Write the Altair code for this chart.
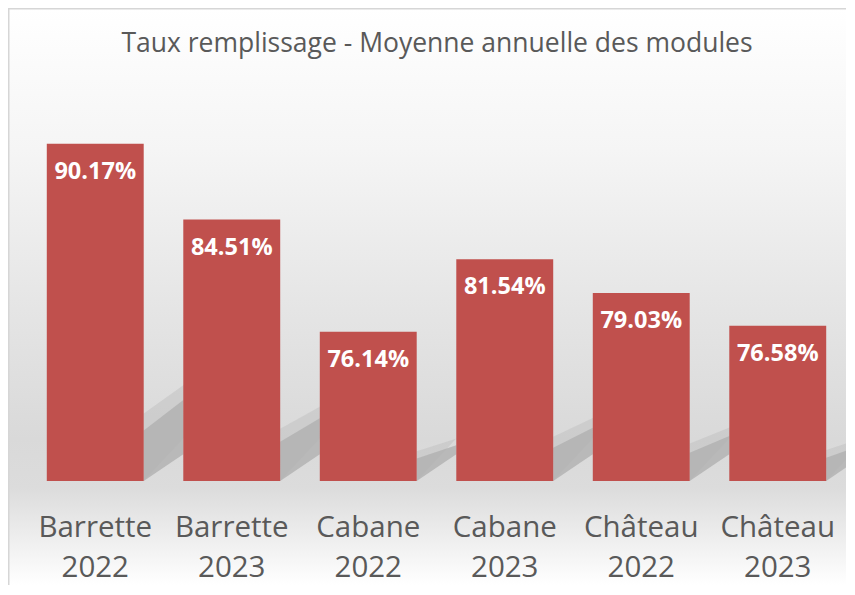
import altair as alt
import pandas as pd

# ---- data ----
categories = ["Barrette 2022", "Barrette 2023", "Cabane 2022",
              "Cabane 2023", "Château 2022", "Château 2023"]
values = [90.17, 84.51, 76.14, 81.54, 79.03, 76.58]
title_text = "Taux remplissage - Moyenne annuelle des modules"

Y_MIN, Y_MAX = 65, 95
W, H = 819, 402
PAD = {"left": 19, "top": 71, "right": 0, "bottom": 104}
FONT = "Open Sans"
BAR = "#C0504D"
TXT = "#595959"

df = pd.DataFrame({"cat": categories, "value": values})
df["label"] = [f"{v:.2f}%" for v in values]


# soft "perspective" shadow behind each bar (decorative), derived from values
def shadow_rows(a, b, c, grow):
    rows = []
    n = len(values)
    for i, v in enumerate(values):
        h = v - Y_MIN
        x0, x1 = i + 0.855, i + 1.145 + grow
        t0, t1 = Y_MIN + a * h, Y_MIN + b * h
        b0, b1 = Y_MIN, Y_MIN + c
        if x1 > n:
            f = (n - x0) / (x1 - x0)
            t1 = t0 + f * (t1 - t0)
            b1 = b0 + f * (b1 - b0)
            x1 = n
        rows.append({"g": i, "sx": x0, "top": t0, "bot": b0})
        rows.append({"g": i, "sx": x1, "top": t1, "bot": b1})
    return pd.DataFrame(rows)


yscale = alt.Scale(domain=[Y_MIN, Y_MAX], nice=False, zero=False)
one = pd.DataFrame({"a": [0]})

bg = alt.Chart(one).mark_rect(
    color=alt.Gradient(
        gradient="linear",
        stops=[
            alt.GradientStop(color="#ffffff", offset=0),
            alt.GradientStop(color="#f5f5f5", offset=0.245),
            alt.GradientStop(color="#e6e6e6", offset=0.504),
            alt.GradientStop(color="#d9d9d9", offset=0.746),
            alt.GradientStop(color="#dcdcdc", offset=0.832),
            alt.GradientStop(color="#eeeeee", offset=0.919),
            alt.GradientStop(color="#ffffff", offset=1),
        ],
        x1=0, x2=0, y1=0, y2=1,
    )
).encode(
    x=alt.value(-PAD["left"]), x2=alt.value(W + PAD["right"]),
    y=alt.value(-PAD["top"]), y2=alt.value(H + PAD["bottom"]),
)

border_top = alt.Chart(one).mark_rule(color="#d6d6d6", strokeWidth=1.5).encode(
    x=alt.value(-PAD["left"]), x2=alt.value(W + PAD["right"]),
    y=alt.value(-PAD["top"] + 0.75),
)
border_left = alt.Chart(one).mark_rule(color="#d6d6d6", strokeWidth=1.5).encode(
    x=alt.value(-PAD["left"] + 0.75),
    y=alt.value(-PAD["top"]), y2=alt.value(H + PAD["bottom"]),
)

sx_scale = alt.Scale(domain=[0, len(values)], nice=False, zero=False)


def shadow_layer(sdf, color, opacity):
    return alt.Chart(sdf).mark_area(color=color, opacity=opacity, interpolate="monotone").encode(
        x=alt.X("sx:Q", scale=sx_scale, axis=None),
        y=alt.Y("top:Q", scale=yscale, axis=None),
        y2="bot:Q",
        detail="g:N",
    )


shadow_outer = shadow_layer(shadow_rows(0.20, 0.29, 3.4, 0.02), "#bdbdbd", 0.45)
shadow_inner = shadow_layer(shadow_rows(0.15, 0.24, 2.0, 0.0), "#b0b0b0", 0.8)

band = alt.Scale(paddingInner=0.29, paddingOuter=0.145)
xband = alt.X(
    "cat:N", sort=None, scale=band,
    axis=alt.Axis(
        title=None, labelAngle=0, domain=False, ticks=False, grid=False,
        labelFont=FONT, labelFontSize=29.5, labelColor=TXT,
        labelPadding=32, labelLineHeight=40, labelOverlap=False, labelLimit=300,
        labelExpr="split(datum.label, ' ')", zindex=2,
    ),
)

bars = alt.Chart(df).mark_bar(color=BAR).encode(
    x=xband,
    y=alt.Y("value:Q", scale=yscale, axis=None),
    y2=alt.datum(Y_MIN),
)

labels = alt.Chart(df).mark_text(
    color="white", font=FONT, fontSize=23.5, fontWeight="bold",
    baseline="alphabetic", align="center", dy=35,
).encode(
    x=alt.X("cat:N", sort=None, scale=band),
    y=alt.Y("value:Q", scale=yscale, axis=None),
    text="label:N",
)

title = alt.Chart(pd.DataFrame({"t": [title_text]})).mark_text(
    color=TXT, font=FONT, fontSize=26.5, baseline="alphabetic", align="center",
).encode(
    x=alt.value(410), y=alt.value(-27), text="t:N",
)

chart = alt.layer(bg, border_top, border_left, shadow_outer, shadow_inner, bars, labels, title).resolve_scale(
    x="independent"
).properties(
    width=W, height=H,
    autosize=alt.AutoSizeParams(type="none"),
    padding=PAD,
    background="white",
).configure_view(stroke=None)

chart.save("out.html", embed_options={"renderer": "svg", "actions": False})
